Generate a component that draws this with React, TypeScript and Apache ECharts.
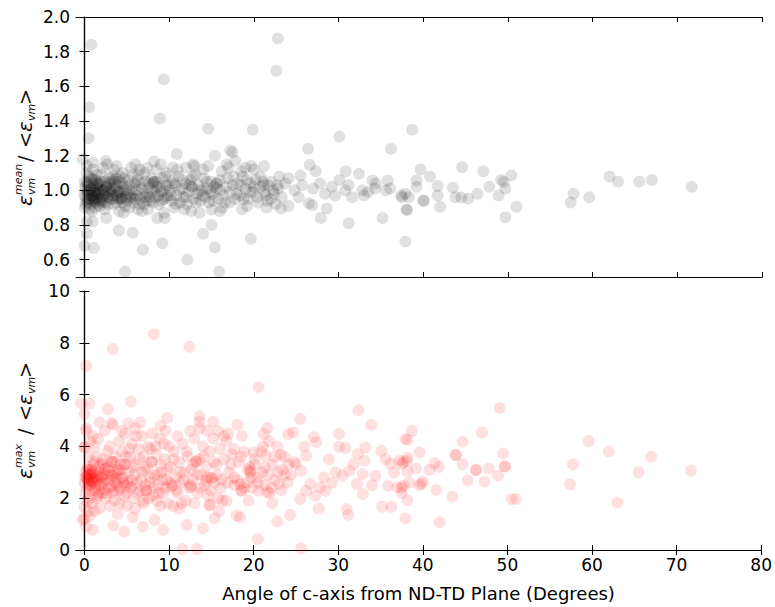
import React, { useEffect, useRef } from "react";
import * as echarts from "echarts";

// ---- Data: angle (deg) vs normalized von Mises strain ----
const xTickValues = [0, 10, 20, 30, 40, 50, 60, 70, 80];
const meanTickValues = [0.6, 0.8, 1.0, 1.2, 1.4, 1.6, 1.8, 2.0];
const maxTickValues = [0, 2, 4, 6, 8, 10];

const meanDense: number[][] = [
  [0.1,1.02],[0.2,0.96],[0.3,1.05],[0.4,0.93],[0.5,0.99],[0.6,1.08],[0.7,0.95],[0.8,1.01],[0.9,0.97],[1.0,1.04],
  [1.1,0.94],[1.2,0.99],[1.3,1.06],[1.4,0.95],[1.5,1.01],[1.6,0.92],[1.7,0.98],[1.8,1.03],[1.9,0.96],[2.0,1.09],
  [2.1,0.94],[2.2,1.0],[2.3,0.97],[2.4,1.05],[2.5,0.93],[2.6,1.02],[2.7,0.96],[2.8,0.99],[2.9,1.07],[3.0,0.95],
  [0.0,0.97],[0.0,1.05],[0.15,0.92],[0.25,1.1],[0.35,0.98],[0.45,1.03],[0.55,0.95],[0.65,1.0],[0.75,0.92],[0.85,1.06],
  [0.95,0.99],[1.05,0.96],[1.15,1.02],[1.25,0.93],[1.35,1.0],[1.45,1.09],[1.55,0.97],[1.65,1.04],[1.75,0.94],[1.85,1.0],
  [0.05,0.9],[0.6,0.89],[1.2,0.9],[1.8,0.91],[0.3,1.14],[1.0,1.12],[2.2,1.13],[2.7,1.15],[0.9,0.88],[2.4,0.89],
  [3.2,1.01],[3.4,0.97],[3.6,1.05],[3.8,0.93],[4.0,0.99],[4.2,1.08],[4.4,0.95],[4.6,1.02],[4.8,0.91],[5.0,0.98],
  [5.2,1.06],[5.4,0.96],[5.6,1.0],[5.8,0.93],[6.0,1.03],[6.2,0.97],[6.4,1.09],[6.6,0.95],[6.8,1.01],[7.0,0.92],
  [7.2,1.05],[7.4,0.98],[7.6,1.04],[7.8,0.94],[8.0,1.0],[8.2,1.05],[8.4,0.96],[8.6,1.02],[8.8,0.92],[9.0,0.99],
  [9.2,1.07],[9.4,0.95],[9.6,1.03],[9.8,0.97],[3.5,1.12],[4.5,1.1],[5.5,1.13],[6.5,1.12],[7.5,0.89],[4.1,0.88],
  [5.3,0.9],[6.3,0.89],[8.5,1.12],[9.7,1.1],[3.0,1.04],[5.9,1.04],[7.1,0.96],[8.1,1.04],[5.7,0.96],[8.2,1.05],
  [10.1,1.0],[10.3,0.94],[10.5,1.06],[10.7,1.03],[10.9,0.97],[11.1,1.08],[11.3,0.93],[11.5,1.01],[11.7,0.96],[11.9,1.04],
  [12.1,0.92],[12.3,0.99],[12.5,1.06],[12.7,1.02],[12.9,0.95],[13.1,1.09],[13.3,0.98],[13.5,1.03],[13.7,0.94],[13.9,1.0],
  [14.1,1.07],[14.3,0.96],[14.5,1.01],[14.7,0.93],[14.9,1.05],[15.1,0.98],[15.3,1.02],[15.6,1.04],[15.8,0.95],[16.0,1.0],
  [16.3,0.9],[16.6,0.93],[16.9,1.07],[17.2,0.99],[17.5,1.03],[17.8,0.95],[11.0,1.12],[12.0,1.13],[13.0,1.14],[14.0,1.12],
  [15.0,0.89],[10.6,0.9],[12.6,0.88],[16.2,1.11],[17.0,1.13],[12.7,1.02],[15.6,1.04]
];

const meanDense2: number[][] = [
  [0.1,1.0],[0.3,1.04],[0.5,0.95],[0.7,1.01],[0.9,0.97],[1.1,1.06],[1.3,0.94],[1.5,1.03],[1.7,0.99],[1.9,1.05],
  [2.1,0.93],[2.3,0.98],[2.5,1.03],[2.7,0.96],[2.9,1.0],[3.1,1.05],[3.3,0.95],[3.5,1.01],[3.7,0.97],[3.9,1.03],
  [4.1,0.99],[4.3,0.95],[4.5,1.04],[4.7,1.0],[4.9,0.96],[0.2,0.94],[0.8,1.07],[1.4,0.98],[2.0,0.95],[2.6,1.02],
  [3.2,0.99],[3.8,1.07],[4.4,0.96],[0.4,1.0],[1.0,0.95],[1.6,1.04],[2.2,1.0],[2.8,0.92],[3.4,1.06],[4.0,0.95],
  [3.1,0.98],[3.3,1.08],[3.5,0.92],[3.7,1.02],[3.9,0.96],[4.1,1.05],[4.3,0.99],[4.5,0.93],[4.7,1.07],[4.9,1.0],
  [5.1,0.94],[5.3,1.03],[5.5,0.97],[5.7,1.09],[5.9,0.95],[6.1,1.0],[6.3,1.06],[6.5,0.92],[6.7,1.04],[6.9,0.98],
  [7.1,1.1],[7.3,0.94],[7.5,1.01],[7.7,0.96],[7.9,1.07],[8.1,0.93],[8.3,0.99],[8.5,1.05],[8.7,0.97],[8.9,1.02],
  [9.1,0.94],[9.3,1.0],[9.5,1.08],[9.7,0.96],[9.9,1.03],[10.2,0.97],[10.4,1.04],[10.8,0.92],[11.2,1.0],[11.6,1.06],
  [12.0,0.96],[12.4,1.03],[12.8,1.08],[13.2,0.93],[13.6,1.0],[14.0,0.97],[14.4,1.05],[14.8,0.99],[15.2,0.94],[15.6,1.01],
  [16.0,1.06],[16.4,0.97],[16.8,1.02],[17.2,0.93],[17.6,1.08],[18.0,0.98],[18.4,1.03],[18.8,0.95],[19.2,1.06],[19.6,0.99],
  [20.0,1.02],[20.4,0.96],[20.8,1.08],[21.2,0.99],[21.6,0.94],[22.0,1.05],[22.4,0.98],[22.8,1.03],
  [3.8,1.14],[6.0,1.15],[7.4,1.13],[9.0,1.15],[10.4,1.13],[12.8,1.15],[14.6,1.14],[16.8,1.15],[19.0,1.13],[4.6,0.87],
  [6.8,0.88],[9.4,0.87],[11.8,0.89],[13.6,0.87],[16.0,0.88],[18.6,0.89]
];

const meanMid: number[][] = [
  [18.1,1.04],[18.4,0.97],[18.7,1.08],[19.0,1.01],[19.3,0.95],[19.6,1.04],[19.9,0.99],[20.2,1.06],[20.5,0.93],[20.8,1.02],
  [21.1,1.05],[21.2,1.03],[21.4,0.97],[21.7,1.03],[22.0,0.95],[22.3,1.0],[22.6,0.92],[22.9,1.01],[23.3,0.96],[23.7,1.04],
  [18.5,1.11],[19.2,0.91],[20.0,1.12],[21.5,0.9],[23.0,1.08],[21.2,1.14],[19.7,1.14],[24.1,1.07],[25.5,1.085],[25.7,1.03],
  [26.98,1.01],[28.4,0.98],[23.2,0.895],[24.1,0.91],[25.3,0.96],[26.5,0.925],[26.9,0.914],[26.6,1.147],[27.3,1.11],[28.6,0.895],
  [24.8,1.0],[27.8,1.04],[29.2,1.02],[29.6,0.97]
];

const meanFar: number[][] = [
  [30.1,1.06],[30.8,1.0],[30.85,1.11],[31.6,0.96],[32.4,1.095],[33.0,0.97],[34.0,1.057],[34.3,1.01],[35.6,1.0],[35.8,1.057],
  [36.1,1.01],[37.5,0.96],[38.0,0.89],[37.4,0.97],[37.9,0.98],[38.3,0.96],[38.1,0.886],[39.2,1.057],[39.2,1.02],[39.7,1.12],
  [40.8,1.08],[40.1,0.94],[40.0,0.94],[41.7,1.025],[41.7,0.97],[42.0,0.905],[43.5,1.015],[43.8,0.96],[44.5,0.958],[45.3,0.952],
  [44.6,1.133],[46.4,0.98],[47.1,1.11],[47.8,1.02],[48.9,0.97],[49.2,1.06],[49.5,1.048],[49.7,1.01],[50.4,1.086],[49.7,0.845],
  [51.0,0.905],[57.4,0.93],[57.75,0.98],[59.6,0.96],[62.0,1.08],[63.0,1.05],[65.5,1.05],[67.0,1.06],[71.7,1.02],[33.5,0.99],
  [34.4,1.04],[31.2,1.03],[32.8,1.0]
];

const meanOutliers: number[][] = [
  [0.8,1.84],[0.55,1.48],[0.47,1.30],[-0.2,1.18],[0.0,0.68],[0.3,0.75],[0.3,0.82],[1.1,0.667],[0.99,0.82],[2.56,0.84],
  [4.06,0.77],[4.8,0.53],[5.7,0.756],[6.9,0.657],[8.2,1.166],[8.9,1.415],[9.2,0.695],[9.35,1.64],[8.6,0.84],[9.5,0.84],
  [10.9,1.21],[12.15,0.60],[14.0,0.75],[15.0,0.80],[14.6,1.356],[15.4,1.20],[15.4,0.67],[15.9,0.53],[17.2,1.23],[17.5,1.22],
  [17.8,1.17],[19.65,0.72],[19.88,1.35],[22.65,1.69],[22.84,1.876],[26.4,1.24],[27.9,0.84],[30.1,1.31],[31.2,0.81],[35.2,0.84],
  [36.2,1.24],[38.7,1.35],[37.9,0.705],[0.99,1.16],[2.5,1.17]
];

const maxDense: number[][] = [
  [0.0,2.6],[0.1,3.0],[0.2,2.8],[0.3,2.4],[0.4,3.2],[0.5,2.7],[0.6,2.9],[0.7,2.5],[0.8,3.1],[0.9,2.8],
  [1.0,2.6],[1.1,3.4],[1.2,2.3],[1.3,2.9],[1.4,3.6],[1.5,2.7],[1.6,2.1],[1.7,3.0],[1.8,2.5],[1.9,3.3],
  [2.0,2.8],[2.1,2.2],[2.2,3.5],[2.3,2.6],[2.4,3.1],[2.5,2.0],[2.6,2.9],[2.7,3.8],[2.8,2.4],[2.9,3.2],
  [0.1,2.2],[0.3,1.9],[0.5,3.6],[0.7,4.2],[0.2,4.6],[0.9,1.8],[1.2,4.0],[1.5,2.0],[0.4,1.5],[0.6,2.0],
  [0.0,1.2],[0.2,0.9],[0.3,2.9],[0.5,2.6],[0.8,2.7],[1.0,3.0],[0.4,2.75],[0.9,2.95],[1.3,2.6],[0.6,3.1],
  [3.1,2.7],[3.3,3.4],[3.5,2.3],[3.7,3.0],[3.9,2.5],[4.1,4.2],[4.3,3.3],[4.5,2.8],[4.7,2.1],[4.9,3.6],
  [5.1,2.6],[5.3,3.9],[5.5,2.4],[5.7,3.2],[5.9,2.9],[6.1,4.4],[6.3,2.2],[6.5,3.5],[6.7,2.7],[6.9,1.9],
  [7.1,3.1],[7.3,2.3],[7.5,4.0],[7.7,2.6],[7.9,3.4],[8.1,2.1],[8.3,2.9],[8.5,3.7],[8.7,2.5],[8.9,4.3],
  [9.1,3.0],[9.3,2.2],[9.5,3.5],[9.7,2.7],[9.9,1.8],[3.6,1.9],[4.4,4.6],[5.0,1.7],[6.0,4.7],[7.0,1.8],
  [8.0,4.5],[9.0,1.7],[3.2,4.9],[5.6,4.1],[7.8,3.9],[2.6,2.19],[5.5,2.45],[7.3,2.3],[2.2,3.35],[3.2,3.41],
  [10.2,3.2],[10.4,2.5],[10.6,3.8],[10.8,2.8],[11.0,2.2],[11.2,3.4],[11.4,2.6],[11.6,4.1],[11.8,3.0],[12.0,1.9],
  [12.2,3.6],[12.4,2.4],[12.6,3.1],[12.8,2.7],[13.0,4.3],[13.2,3.4],[13.4,2.2],[13.6,3.5],[13.8,2.9],[14.0,4.0],
  [14.2,2.5],[14.4,3.2],[14.6,2.1],[14.8,3.8],[15.0,2.8],[15.2,4.3],[15.4,2.6],[15.6,3.3],[15.8,2.0],[16.0,3.9],
  [16.2,2.7],[16.5,3.5],[16.8,4.2],[17.1,3.0],[17.4,3.7],[17.7,2.5],[10.5,1.7],[11.5,1.8],[12.5,4.6],[14.5,4.6],
  [16.3,1.9],[17.0,4.5],[10.0,4.0],[10.3,2.45],[12.6,2.45],[14.4,2.7],[15.0,2.76],[17.7,2.8],[18.5,2.3],[13.2,3.43]
];

const maxDense2: number[][] = [
  [0.1,2.8],[0.3,3.1],[0.5,2.5],[0.7,2.95],[0.9,2.65],[1.1,3.3],[1.3,2.4],[1.5,2.85],[1.7,3.2],[1.9,2.55],
  [2.1,2.9],[2.3,2.35],[2.5,3.15],[2.7,2.7],[2.9,3.05],[3.1,2.45],[3.3,2.85],[3.5,3.4],[3.7,2.6],[3.9,2.95],
  [4.1,2.3],[4.3,3.1],[4.5,2.75],[4.7,3.3],[4.9,2.5],[0.4,2.7],[1.2,2.75],[2.0,2.8],[0.8,2.3],[1.6,2.2],
  [3.2,2.9],[3.4,2.2],[3.6,3.6],[3.8,2.75],[4.0,3.1],[4.2,2.4],[4.4,3.8],[4.6,2.6],[4.8,3.3],[5.0,2.2],
  [5.2,3.0],[5.4,3.6],[5.6,2.7],[5.8,2.0],[6.0,3.3],[6.2,2.6],[6.4,3.9],[6.6,2.3],[6.8,3.0],[7.0,3.6],
  [7.2,2.5],[7.4,3.2],[7.6,2.0],[7.8,2.8],[8.0,3.4],[8.2,2.4],[8.4,4.0],[8.6,2.9],[8.8,2.2],[9.0,3.3],
  [9.2,2.7],[9.4,4.1],[9.6,2.4],[9.8,3.1],[10.1,2.6],[10.5,3.5],[10.9,2.3],[11.3,3.0],[11.7,2.7],[12.1,3.8],
  [12.5,2.5],[12.9,3.3],[13.3,2.9],[13.7,2.4],[14.1,3.6],[14.5,2.8],[14.9,2.3],[15.3,3.4],[15.7,2.9],[16.1,2.4],
  [16.5,4.4],[16.9,2.6],[17.3,3.3],[17.7,3.9],[18.1,2.7],[18.5,3.6],[18.9,2.4],[19.3,3.1],[19.7,2.8],[20.1,3.3],
  [20.5,2.6],[20.9,3.8],[21.3,3.2],[21.7,2.9],[22.1,2.4],[22.5,3.6],[22.9,3.0],[23.3,2.3],[23.7,2.9],[24.1,3.3],
  [1.6,4.3],[2.4,4.6],[3.0,4.0],[4.8,4.5],[6.8,4.4],[9.6,4.6],[11.0,4.4],[13.6,4.7],[15.8,4.6],[18.6,4.4],
  [21.8,4.2],[1.0,4.4],[5.2,4.9],[9.0,4.8],[1.8,1.6],[3.0,1.7],[4.2,1.8],[6.0,1.6],[8.6,1.9],[11.2,1.6],
  [13.0,1.8],[16.8,1.9],[19.4,1.9],[22.2,1.8],[0.6,1.3],[1.2,1.5]
];

const maxMid: number[][] = [
  [19.6,3.0],[21.4,3.64],[21.1,4.0],[18.6,2.29],[18.4,2.55],[20.0,3.77],[21.2,4.48],[21.6,4.71],[23.2,3.68],[24.1,4.48],
  [24.7,4.54],[27.1,4.35],[27.4,4.16],[30.1,4.48],[30.1,3.99],[30.85,3.94],[32.3,3.7],[33.2,3.96],[33.1,3.45],[35.1,3.83],
  [35.6,3.51],[36.2,3.32],[37.95,4.29],[38.1,3.45],[20.6,2.29],[21.6,2.23],[23.0,2.55],[25.0,3.32],[25.6,3.06],[26.2,3.64],
  [26.7,2.55],[27.9,2.42],[28.3,2.8],[28.5,2.29],[27.3,2.1],[26.2,2.29],[25.5,1.97],[29.7,3.0],[30.5,2.87],[31.3,3.06],
  [32.2,2.55],[32.9,2.93],[32.9,2.16],[34.4,2.87],[35.9,2.48],[36.97,2.42],[37.55,3.32],[37.7,2.48],[18.2,3.4],[18.9,3.8],
  [19.2,2.6],[19.5,3.2],[19.8,2.4],[20.1,3.5],[20.4,2.8],[21.0,3.0],[21.3,2.5],[21.9,2.2],[22.2,3.3],[22.5,2.7],
  [22.8,4.0],[23.4,3.1],[23.7,3.6],[24.0,2.6],[24.4,2.9],[24.8,3.4],[26.0,4.0],[28.9,3.5],[29.3,2.6],[31.8,3.3],
  [34.0,2.5],[36.6,3.0],[19.6,3.05]
];

const maxFar: number[][] = [
  [38.7,4.6],[38.2,4.25],[39.6,3.76],[42.0,1.07],[43.5,2.06],[43.9,3.67],[44.7,3.31],[44.7,4.18],[47.0,4.54],[46.3,3.09],
  [45.3,2.68],[47.3,2.64],[47.8,3.15],[48.9,2.87],[49.5,3.73],[49.7,3.22],[50.5,1.97],[51.0,1.97],[41.6,2.32],[38.2,1.93],
  [37.5,2.2],[37.5,2.4],[38.2,3.03],[38.2,3.56],[37.7,3.4],[39.2,3.15],[39.6,2.5],[40.0,2.64],[39.8,2.55],[40.8,3.1],
  [41.4,3.35],[41.9,3.2],[37.2,3.46],[38.4,2.6],[49.1,5.48],[57.4,2.54],[57.75,3.31],[59.6,4.21],[62.0,3.8],[63.0,1.83],
  [65.5,3.0],[67.0,3.6],[71.7,3.06],[43.9,3.67],[46.3,3.09],[49.7,3.22]
];

const maxOutliers: number[][] = [
  [8.2,8.33],[12.4,7.85],[3.35,7.76],[0.2,7.1],[-0.4,5.66],[0.6,5.66],[0.0,5.25],[2.76,5.44],[5.5,5.73],[0.2,4.7],
  [1.8,4.93],[3.35,4.83],[6.6,4.93],[9.8,5.1],[13.6,5.17],[13.6,4.95],[15.2,4.95],[0.0,3.99],[0.0,3.95],[0.6,2.89],
  [3.95,1.39],[5.7,1.26],[6.9,0.9],[3.4,0.94],[4.7,0.71],[1.0,0.78],[-0.2,1.17],[0.0,1.66],[8.3,1.16],[9.3,0.77],
  [12.1,0.97],[14.0,0.84],[11.6,0.04],[13.3,0.04],[14.8,1.74],[14.8,1.74],[15.4,1.23],[15.9,1.5],[18.0,1.33],[18.1,4.83],
  [20.6,6.28],[20.5,0.42],[22.8,1.1],[24.3,1.35],[25.6,0.07],[25.5,5.06],[32.4,5.4],[33.9,4.83],[27.7,1.6],[31.0,1.58],
  [31.2,1.35],[35.2,1.67],[36.3,1.67],[37.95,1.22],[18.4,1.26]
];

const xAxisTitle = "Angle of c-axis from ND-TD Plane (Degrees)";

const FONT = "DejaVu Sans";

function yTitle(cx: number, cy: number, sup: string) {
  const t = (text: string, x: number, y: number, size: number, italic = true) => ({
    type: "text",
    x,
    y,
    style: {
      text,
      fontFamily: FONT,
      fontSize: size,
      fontStyle: italic ? "italic" : "normal",
      fill: "#111",
      align: "left",
      verticalAlign: "middle",
    },
  });
  return {
    type: "group",
    x: cx,
    y: cy,
    rotation: Math.PI / 2,
    children: [
      t("ε", -59, 0, 20),
      t(sup, -48, -7, 11),
      t("vm", -48, 6, 11),
      t("/", -15, 0, 19, false),
      t("<", -1, 0, 19, false),
      t("ε", 15, 0, 20),
      t("vm", 26, 6, 11),
      t(">", 42, 0, 19, false),
    ],
  };
}

export default function App() {
  const ref = useRef<HTMLDivElement>(null);
  useEffect(() => {
    if (!ref.current) return;
    const chart = echarts.init(ref.current, null, { renderer: "svg" });
    const axisLine = { show: true, lineStyle: { color: "#000", width: 1.2 } };
    const tick = (vals: number[]) => ({
      show: true,
      inside: true,
      length: 5,
      customValues: vals,
      lineStyle: { color: "#000", width: 1 },
    });
    const label = (vals: number[], fmt?: (v: number) => string) => ({
      show: true,
      customValues: vals,
      fontFamily: FONT,
      fontSize: 17,
      color: "#000",
      margin: 6,
      formatter: fmt,
    });
    const xBase = (gridIndex: number, position: string, showLabel: boolean) => ({
      type: "value",
      gridIndex,
      position,
      min: -1,
      max: 80,
      axisLine,
      axisTick: tick(xTickValues),
      axisLabel: showLabel ? label(xTickValues, (v: number) => String(Math.round(v))) : { show: false },
      splitLine: { show: false },
    });
    const yBase = (gridIndex: number, position: string, min: number, max: number, vals: number[], showLabel: boolean, fmt: (v: number) => string) => ({
      type: "value",
      gridIndex,
      position,
      min,
      max,
      axisLine,
      axisTick: tick(vals),
      axisLabel: showLabel ? label(vals, fmt) : { show: false },
      splitLine: { show: false },
    });
    const fmt1 = (v: number) => v.toFixed(1);
    const fmt0 = (v: number) => String(Math.round(v));
    const meanStyle = { color: "rgba(0,0,0,0.15)" };
    const maxStyle = { color: "rgba(255,0,0,0.15)" };
    const sc = (data: number[][], xi: number, yi: number, style: any) => ({
      type: "scatter",
      xAxisIndex: xi,
      yAxisIndex: yi,
      data,
      symbol: "circle",
      symbolSize: 12,
      itemStyle: style,
      clip: true,
      silent: true,
    });
    chart.setOption({
      animation: false,
      backgroundColor: "#fff",
      textStyle: { fontFamily: FONT },
      grid: [
        { left: 76, top: 17, width: 686, height: 260 },
        { left: 76, top: 291, width: 686, height: 259 },
      ],
      xAxis: [
        xBase(0, "bottom", false),
        xBase(0, "top", false),
        {
          ...xBase(1, "bottom", true),
          name: xAxisTitle,
          nameLocation: "middle",
          nameGap: 34,
          nameTextStyle: { fontFamily: FONT, fontSize: 18, color: "#000" },
        },
        xBase(1, "top", false),
      ],
      yAxis: [
        yBase(0, "left", 0.5, 2.0, meanTickValues, true, fmt1),
        yBase(0, "right", 0.5, 2.0, meanTickValues, false, fmt1),
        yBase(1, "left", 0, 10, maxTickValues, true, fmt0),
        yBase(1, "right", 0, 10, maxTickValues, false, fmt0),
      ],
      series: [
        sc(meanDense, 0, 0, meanStyle),
        sc(meanDense2, 0, 0, meanStyle),
        sc(meanMid, 0, 0, meanStyle),
        sc(meanFar, 0, 0, meanStyle),
        sc(meanOutliers, 0, 0, meanStyle),
        sc(maxDense, 2, 2, maxStyle),
        sc(maxDense2, 2, 2, maxStyle),
        sc(maxMid, 2, 2, maxStyle),
        sc(maxFar, 2, 2, maxStyle),
        sc(maxOutliers, 2, 2, maxStyle),
      ],
      graphic: [yTitle(25, 147, "mean"), yTitle(25, 420, "max")],
    });
    return () => chart.dispose();
  }, []);
  return (
    <div
      ref={ref}
      style={{ position: "fixed", left: 0, top: 0, width: 775, height: 607, background: "#fff" }}
    />
  );
}
